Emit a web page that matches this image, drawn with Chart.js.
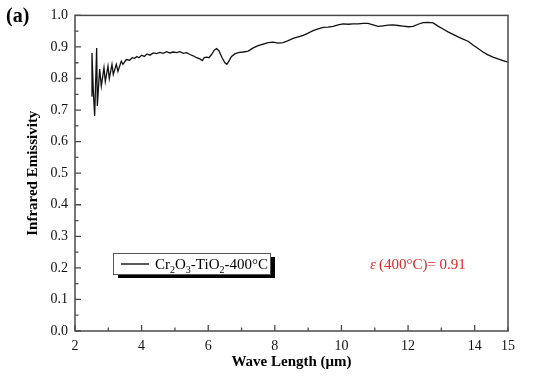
<!DOCTYPE html>
<html>
<head>
<meta charset="utf-8">
<script src="https://cdn.jsdelivr.net/npm/chart.js@4"></script>
<style>
  html, body { margin: 0; padding: 0; background: #fff; }
  #wrap { width: 533px; height: 376px; }
</style>
</head>
<body>
<div id="wrap"><canvas id="emissivityChart" width="533" height="376"></canvas></div>
<script>
// wavelength (um) and emissivity
const wavelength = [
  2.50, 2.51, 2.55, 2.59, 2.65, 2.67, 2.74, 2.79, 2.87, 2.91, 2.99, 3.03, 3.11, 3.15,
  3.24, 3.29, 3.39, 3.44, 3.54, 3.64, 3.72, 3.79, 3.86,
  3.92, 4.00, 4.08, 4.16, 4.25, 4.35, 4.45, 4.55, 4.65, 4.75, 4.85,
  4.95, 5.05, 5.15, 5.25, 5.35, 5.45, 5.55, 5.65, 5.75, 5.82, 5.88, 5.95, 6.02, 6.10,
  6.18, 6.25, 6.32, 6.42, 6.50, 6.56, 6.62, 6.70, 6.80, 6.90, 7.05, 7.20, 7.35, 7.50,
  7.65, 7.80, 7.95, 8.10, 8.25, 8.40, 8.55, 8.70, 8.85, 9.00, 9.15, 9.30, 9.45, 9.60,
  9.75, 9.90, 10.05, 10.20, 10.35, 10.50, 10.65, 10.80, 10.95, 11.10, 11.25, 11.40,
  11.55, 11.70, 11.85, 12.00, 12.15, 12.30, 12.45, 12.60, 12.75, 12.90, 13.05, 13.20,
  13.35, 13.50, 13.65, 13.80, 13.95, 14.10, 14.25, 14.40, 14.55, 14.70, 14.85, 15.00
];
const emissivity = [
  0.744, 0.881, 0.760, 0.681, 0.897, 0.713, 0.830, 0.776, 0.834, 0.790, 0.839, 0.800, 0.845, 0.813,
  0.845, 0.823, 0.855, 0.845, 0.860, 0.858, 0.866, 0.864, 0.870,
  0.866, 0.874, 0.870, 0.878, 0.874, 0.881, 0.879, 0.883, 0.880, 0.885, 0.881,
  0.884, 0.882, 0.885, 0.880, 0.882, 0.876, 0.872, 0.866, 0.862, 0.857, 0.866, 0.868, 0.866, 0.876,
  0.890, 0.895, 0.888, 0.865, 0.850, 0.845, 0.855, 0.870, 0.878, 0.882, 0.884, 0.887, 0.897, 0.904,
  0.909, 0.914, 0.915, 0.912, 0.914, 0.920, 0.927, 0.932, 0.937, 0.944, 0.952, 0.957, 0.962, 0.963,
  0.965, 0.970, 0.973, 0.972, 0.973, 0.973, 0.975, 0.975, 0.970, 0.965, 0.967, 0.969,
  0.970, 0.968, 0.966, 0.964, 0.965, 0.972, 0.977, 0.978, 0.976, 0.966, 0.957, 0.948,
  0.940, 0.932, 0.925, 0.918, 0.906, 0.895, 0.884, 0.875, 0.868, 0.862, 0.857, 0.852
];
const xTicks = [2, 3, 4, 5, 6, 7, 8, 9, 10, 11, 12, 13, 14, 15];
const xLabelled = [2, 4, 6, 8, 10, 12, 14, 15];
const yTicks = [0, 0.1, 0.2, 0.3, 0.4, 0.5, 0.6, 0.7, 0.8, 0.9, 1.0];
const yMinorTicks = [0.05, 0.15, 0.25, 0.35, 0.45, 0.55, 0.65, 0.75, 0.85, 0.95];
const seriesName = 'Cr2O3-TiO2-400°C';
const noteText = '(400°C)= 0.91';

const serif = 'Liberation Serif, Times New Roman, serif';

// frame + inward ticks, legend box and note
const decorations = {
    id: 'decorations',
    afterDraw(chart) {
        const ctx = chart.ctx;
        const a = chart.chartArea;
        const xs = chart.scales.x, ys = chart.scales.y;
        ctx.save();
        ctx.strokeStyle = '#4a4a4a';
        ctx.lineWidth = 1.5;
        ctx.strokeRect(a.left, a.top, a.right - a.left, a.bottom - a.top);

        ctx.lineWidth = 1.3;
        ctx.beginPath();
        xTicks.forEach(v => {
            const px = xs.getPixelForValue(v);
            const len = v % 2 === 0 ? 6 : 3.5;
            ctx.moveTo(px, a.bottom);
            ctx.lineTo(px, a.bottom - len);
        });
        yTicks.forEach(v => {
            const py = ys.getPixelForValue(v);
            ctx.moveTo(a.left, py);
            ctx.lineTo(a.left + 6, py);
        });
        yMinorTicks.forEach(v => {
            const py = ys.getPixelForValue(v);
            ctx.moveTo(a.left, py);
            ctx.lineTo(a.left + 3.5, py);
        });
        ctx.stroke();

        // panel label
        ctx.fillStyle = '#000';
        ctx.font = 'bold 20px ' + serif;
        ctx.textBaseline = 'alphabetic';
        ctx.textAlign = 'left';
        ctx.fillText('(a)', 6, 22);

        // legend with shadow
        const lx = 113, ly = 253, lw = 157, lh = 21;
        ctx.fillStyle = '#000';
        ctx.fillRect(lx + 5, ly + 4, lw, lh);
        ctx.fillStyle = '#fff';
        ctx.fillRect(lx, ly, lw, lh);
        ctx.strokeStyle = '#555';
        ctx.lineWidth = 1;
        ctx.strokeRect(lx + 0.5, ly + 0.5, lw, lh);
        ctx.strokeStyle = '#000';
        ctx.lineWidth = 1.3;
        ctx.beginPath();
        ctx.moveTo(lx + 8, ly + 11);
        ctx.lineTo(lx + 36, ly + 11);
        ctx.stroke();

        const parts = [['Cr', 0], ['2', 1], ['O', 0], ['3', 1], ['-TiO', 0], ['2', 1], ['-400°C', 0]];
        let tx = lx + 42;
        const base = ly + 16;
        ctx.fillStyle = '#000';
        parts.forEach(([t, sub]) => {
            ctx.font = (sub ? '10px ' : '15px ') + serif;
            ctx.fillText(t, tx, sub ? base + 4 : base);
            tx += ctx.measureText(t).width;
        });

        // emissivity note
        ctx.fillStyle = '#d42a2a';
        let nx = 370;
        ctx.font = 'italic 15px ' + serif;
        ctx.fillText('ε', nx, 269);
        nx += ctx.measureText('ε').width + 3;
        ctx.font = '15px ' + serif;
        ctx.fillText(noteText, nx, 269);
        ctx.restore();
    }
};

new Chart(document.getElementById('emissivityChart').getContext('2d'), {
    type: 'line',
    data: {
        datasets: [{
            label: seriesName,
            data: wavelength.map((w, i) => ({ x: w, y: emissivity[i] })),
            borderColor: '#111',
            borderWidth: 1.3,
            pointRadius: 0,
            tension: 0,
            fill: false
        }]
    },
    options: {
        responsive: false,
        animation: false,
        layout: { padding: { top: 14, right: 25, left: 0, bottom: 0 } },
        plugins: { legend: { display: false }, tooltip: { enabled: false } },
        scales: {
            x: {
                type: 'linear', min: 2, max: 15,
                afterBuildTicks: s => { s.ticks = xTicks.map(v => ({ value: v })); },
                afterFit: s => { s.height = 45; },
                grid: { display: false, drawTicks: false },
                border: { display: false },
                ticks: {
                    autoSkip: false, maxRotation: 0, padding: 7, color: '#111',
                    font: { family: serif, size: 14 },
                    callback: v => xLabelled.includes(v) ? String(v) : ''
                },
                title: {
                    display: true, text: 'Wave Length (μm)', color: '#000',
                    font: { family: serif, size: 15, weight: 'bold' },
                    padding: { top: 0, bottom: 5 }
                }
            },
            y: {
                min: 0, max: 1,
                afterBuildTicks: s => { s.ticks = yTicks.map(v => ({ value: v })); },
                afterFit: s => { s.width = 75; },
                grid: { display: false, drawTicks: false },
                border: { display: false },
                ticks: {
                    padding: 7, color: '#111',
                    font: { family: serif, size: 14 },
                    callback: v => v.toFixed(1)
                },
                title: {
                    display: true, text: 'Infrared Emissivity', color: '#000',
                    font: { family: serif, size: 15, weight: 'bold' },
                    padding: { top: 24, bottom: 0 }
                }
            }
        }
    },
    plugins: [decorations]
});
</script>
</body>
</html>
